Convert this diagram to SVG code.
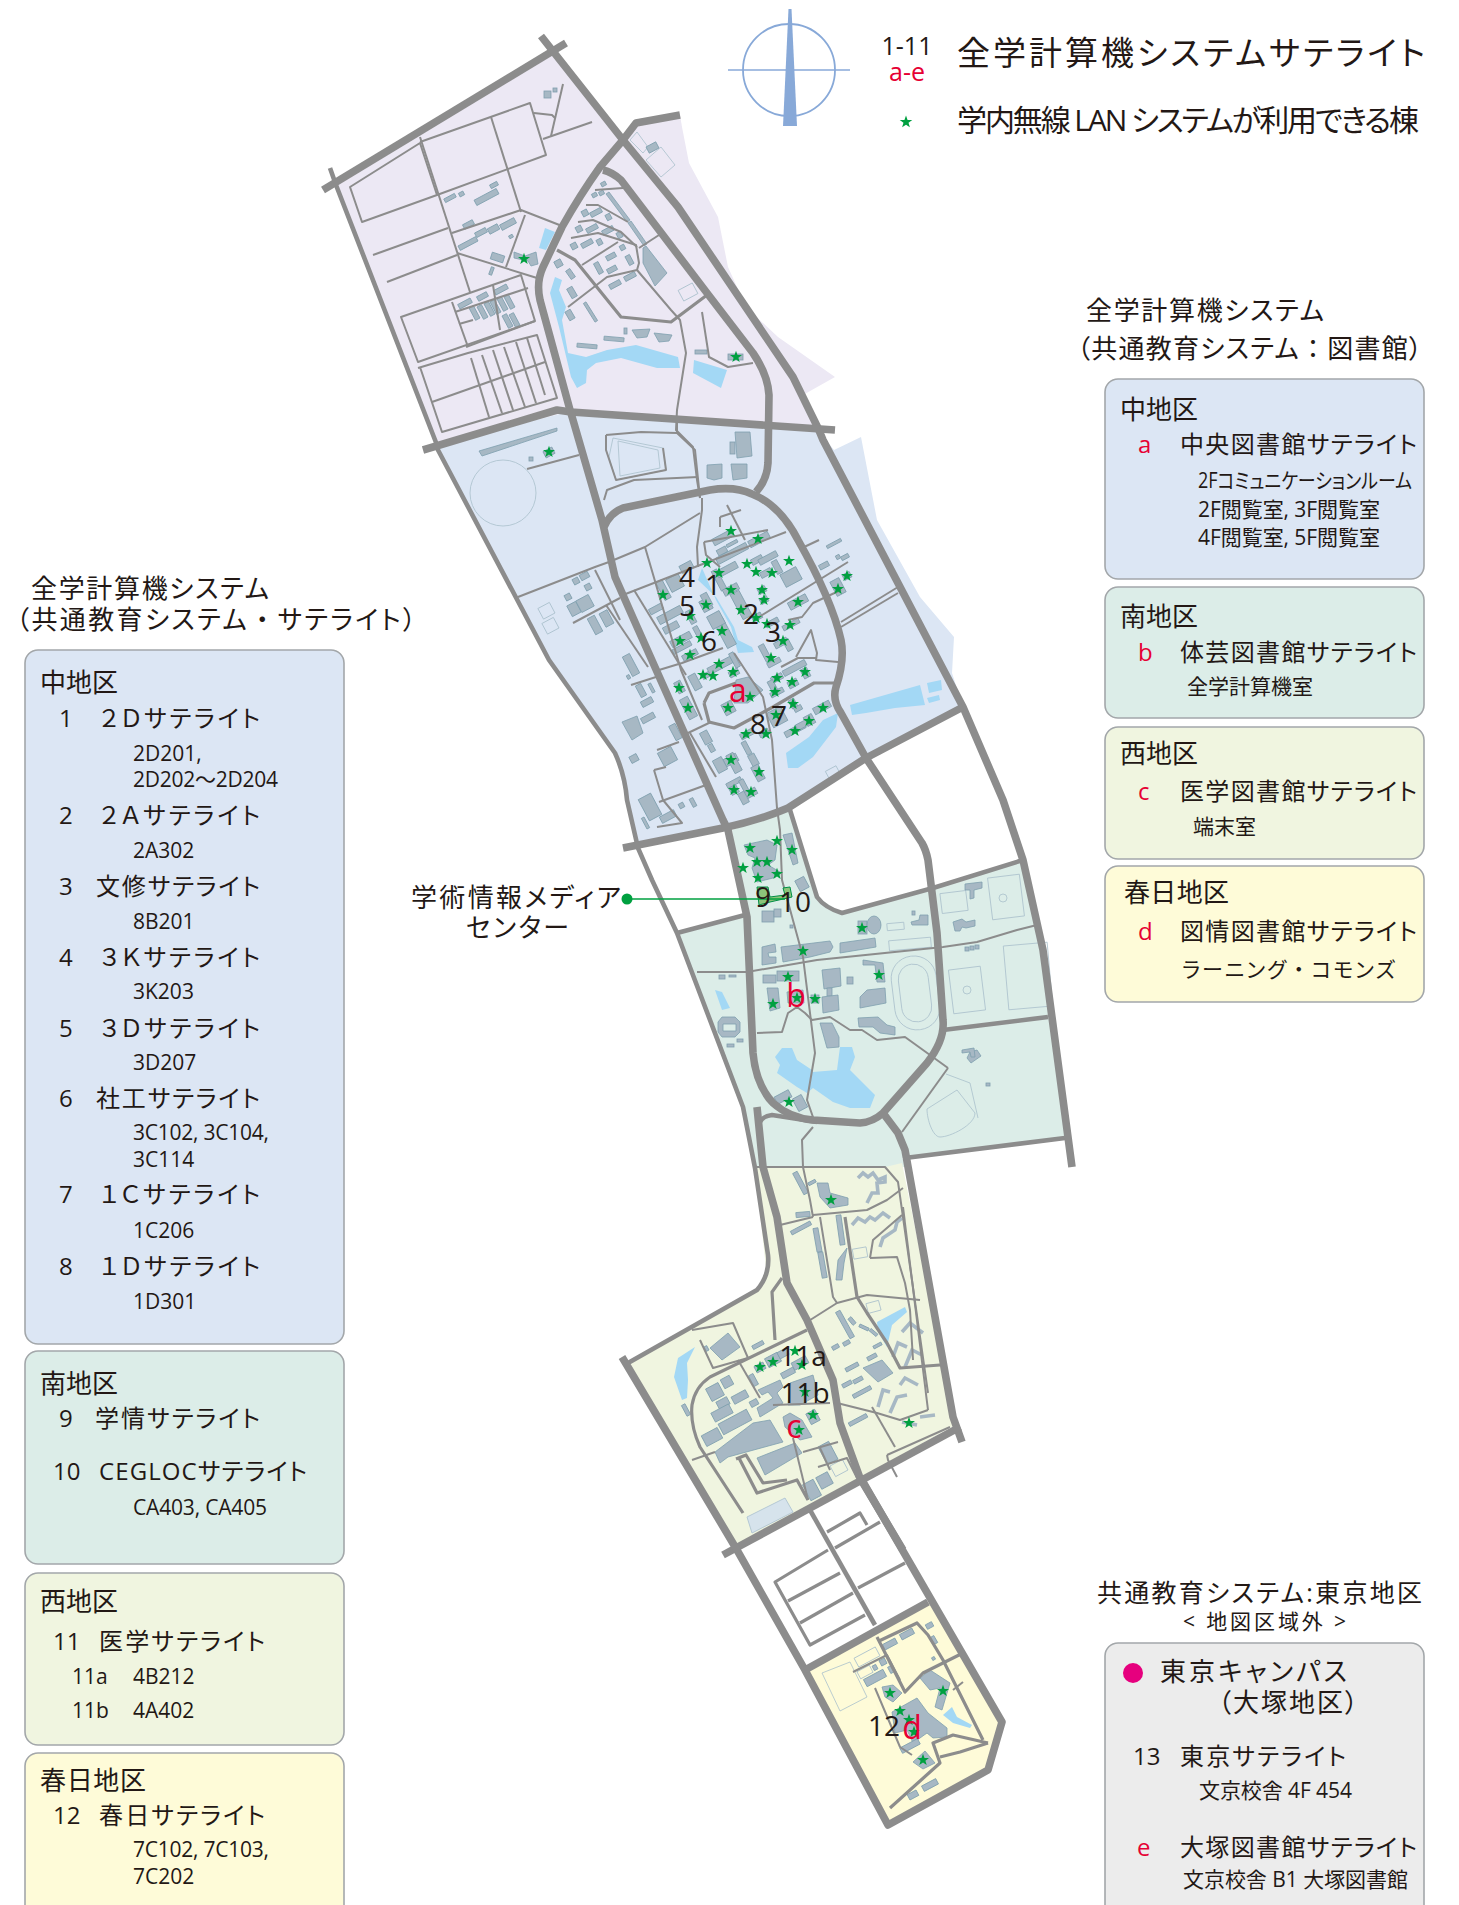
<svg xmlns="http://www.w3.org/2000/svg" width="1459" height="1905" viewBox="0 0 1459 1905">
<style>
text{font-family:"Open Sans","Noto Sans CJK JP",sans-serif;fill:#231815;font-size:24px}
.j{font-feature-settings:"palt"}
.f{font-feature-settings:normal}
.h{font-size:26px}.s{font-size:21px}.r{fill:#e60033}
.n{font-size:28px;text-anchor:middle}.nr{font-size:32px;text-anchor:middle;fill:#e60033}
.box{stroke:#a3a7aa;stroke-width:1.6}
.pond{fill:#a3d8f5}
#bld rect{transform-box:fill-box;transform-origin:center;transform:rotate(-28deg)}
#bld rect,#bld polygon,.bp{fill:#a7b8c4;stroke:#7f9fae;stroke-width:.8}
#bld rect.u{transform:none}
.o{fill:none;stroke:#aac0cc;stroke-width:.8}
.zig{fill:none;stroke:#a7b8c4;stroke-width:3.6}
.w8{fill:none;stroke:#8c8c8c;stroke-width:7.6;stroke-linejoin:round}
.w5{fill:none;stroke:#8c8c8c;stroke-width:4.6;stroke-linejoin:round}
.w3{fill:none;stroke:#8c8c8c;stroke-width:3.2;stroke-linejoin:round}
.w2{fill:none;stroke:#8c8c8c;stroke-width:2;stroke-linejoin:round}
.st{fill:#00a040}
</style>
<defs><polygon id="star" points="0,-6.200 1.500,-2 6,-1.900 2.400,.8 3.700,5 0,2.600 -3.700,5 -2.400,.8 -6,-1.900 -1.500,-2"/></defs>
<rect width="1459" height="1905" fill="#fff"/>

<g id="regions">
<polygon fill="#ece8f4" points="336,185 552,50 623,140 636,123 680,115 682,127 689,163 718,217 728,267 746,307 778,337 835,377 803,395 816,428 568,412 437,445"/>
<polygon fill="#dce6f4" points="437,445 568,412 816,428 834,450 861,437 877,520 920,597 954,637 952,673 963,707 866,758 788,808 723,828 623,848 638,848 615,753 549,660"/>
<polygon fill="#dcede8" points="732,830 790,810 817,897 842,913 1022,860 1047,967 1065,1137 902,1158 907,1167 887,1167 755,1168 743,1107 677,933 745,915"/>
<polygon fill="#f0f5e0" points="755,1168 885,1167 902,1163 953,1417 955,1425 737,1547 628,1363 757,1290 767,1277 755,1168"/>
<polygon fill="#fefbd8" points="805,1670 928,1602 1002,1722 988,1770 888,1825"/>
</g>

<g id="water">
<polygon class="pond" points="545,228 555,232 546,250 539,248"/>
<polygon class="pond" points="555,277 562,280 559,290 566,307 562,320 568,353 586,357 607,350 636,345 678,357 680,368 657,368 621,358 596,363 587,370 586,383 577,388 571,377 559,327 550,293"/>
<polygon class="pond" points="694,360 727,370 721,388 693,373"/>
<polygon class="pond" points="702,568 698,580 716,597 734,627 738,640 752,647 754,652 738,653 731,627 716,600"/>
<polygon class="pond" points="838,713 836,727 813,757 798,768 788,768 786,753 809,737 823,720"/>
<polygon class="pond" points="850,705 920,685 925,705 895,708 866,713 852,715"/>
<polygon class="pond" points="927,683 941,680 942,690 929,693"/>
<polygon class="pond" points="927,698 939,695 940,700 929,703"/>
<polygon class="pond" points="715,990 722,992 730,1008 722,1010"/>
<polygon class="pond" points="775,1057 782,1048 792,1048 797,1060 812,1070 813,1072 837,1070 840,1047 852,1047 855,1057 850,1070 875,1095 870,1108 850,1108 833,1102 813,1088 807,1093 797,1087 777,1073 780,1065"/>
<polygon class="pond" points="695,1347 687,1363 688,1380 687,1398 682,1400 674,1377 678,1358"/>
<polygon class="pond" points="877,1322 905,1307 907,1312 892,1325 887,1347 878,1332"/>
<polygon class="pond" points="943,1715 952,1707 957,1717 972,1725 970,1728 953,1723"/>
<polygon fill="#d6e3ec" stroke="#b4c8d4" points="747,1517 785,1498 793,1512 752,1533"/>
</g>

<g id="outlines">
<polygon class="o" points="630,140 637,132 648,147 643,153"/>
<polygon class="o" points="646,160 661,147 675,165 661,177"/>
<rect class="o" x="680" y="286" width="16" height="12" transform="rotate(-28 688 292)"/>
<circle class="o" cx="503" cy="493" r="33"/>
<polygon class="o" points="613,438 663,448 666,470 616,480 609,457"/>
<polygon class="o" points="618,441 658,450 660,468 620,476"/>
<rect class="o" x="540" y="605" width="13" height="12" transform="rotate(-28 546 611)"/>
<rect class="o" x="544" y="620" width="13" height="12" transform="rotate(-28 550 626)"/>
<rect class="o" x="827" y="768" width="12" height="10" transform="rotate(-28 833 773)"/>
<rect class="o" x="887" y="923" width="17" height="7" transform="rotate(-5 895 926)"/>
<rect class="o" x="889" y="939" width="42" height="10" transform="rotate(-5 910 944)"/>
<rect class="o" x="893" y="956" width="45" height="74" rx="22" transform="rotate(-7 915 993)"/>
<rect class="o" x="900" y="964" width="30" height="58" rx="15" transform="rotate(-7 915 993)"/>
<rect class="o" x="990" y="876" width="32" height="42" transform="rotate(-7 1006 897)"/>
<rect class="o" x="951" y="968" width="32" height="44" transform="rotate(-7 967 990)"/>
<circle class="o" cx="967" cy="990" r="4"/><circle class="o" cx="1003" cy="898" r="4"/>
<rect class="o" x="941" y="892" width="26" height="20" transform="rotate(-7 954 902)"/>
<rect class="o" x="1006" y="944" width="44" height="64" transform="rotate(-5 1028 976)"/>
<path class="o" d="M927 1109 L957 1090 L975 1113 C975 1125 950 1137 940 1137 C933 1137 927 1120 927 1109Z M946 1074 L970 1083 L978 1118"/>
<rect class="o" x="853" y="1248" width="14" height="10" transform="rotate(-10 860 1253)"/>
<rect class="o" x="867" y="1302" width="13" height="10" transform="rotate(-15 873 1307)"/>
<rect class="o" x="832" y="1462" width="14" height="12" transform="rotate(-28 839 1468)"/>
<polygon class="o" points="822,1673 850,1662 867,1697 840,1711"/>
<rect class="o" x="855" y="1652" width="24" height="10" transform="rotate(-28 867 1657)"/>
<rect class="o" x="858" y="1668" width="14" height="8" transform="rotate(-28 865 1672)"/>
</g>

<g id="bld">
<rect x="544" y="91" width="7" height="7" class="u"/><rect x="553" y="88" width="4" height="4" class="u"/>
<rect x="444" y="196" width="12" height="4"/><rect x="459" y="192" width="5" height="4"/><rect x="474" y="194" width="25" height="6"/><rect x="490" y="183" width="8" height="4"/>
<rect x="463" y="222" width="11" height="5"/><rect x="475" y="230" width="12" height="5"/><rect x="488" y="226" width="11" height="6"/><rect x="500" y="221" width="16" height="6"/><rect x="509" y="235" width="4" height="3"/><rect x="458" y="241" width="20" height="5"/>
<rect x="491" y="254" width="13" height="7" class="u" style="transform:rotate(18deg)"/><polygon points="514,252 525,256 536,252 538,264 531,266 528,261 514,258"/><rect x="490" y="267" width="3" height="8" class="u" style="transform:rotate(20deg)"/>
<rect x="458" y="301" width="14" height="5"/><rect x="477" y="294" width="11" height="5"/><rect x="494" y="287" width="14" height="5"/>
<rect x="472" y="306" width="5" height="14"/><rect x="480" y="305" width="5" height="14"/><rect x="487" y="302" width="5" height="14"/><rect x="493" y="300" width="5" height="14"/><rect x="500" y="297" width="5" height="14"/><rect x="507" y="295" width="5" height="14"/><rect x="505" y="314" width="5" height="14"/><rect x="512" y="313" width="5" height="14"/>
<rect x="601" y="182" width="5" height="4"/><rect x="592" y="193" width="5" height="4"/><rect x="599" y="191" width="5" height="4"/>
<polygon points="606,194 609,192 630,220 627,222"/><polygon points="628,223 631,221 647,244 644,246"/><polygon points="643,248 646,246 667,273 655,286 643,263"/>
<rect x="582" y="210" width="6" height="6"/><rect x="590" y="210" width="12" height="5"/><rect x="606" y="214" width="5" height="6"/><rect x="576" y="226" width="6" height="6"/><rect x="586" y="226" width="12" height="5"/><rect x="602" y="228" width="12" height="5"/><rect x="617" y="232" width="5" height="6"/><rect x="571" y="243" width="6" height="6"/><rect x="581" y="241" width="12" height="5"/><rect x="597" y="239" width="5" height="6"/><rect x="620" y="245" width="5" height="5"/><rect x="606" y="254" width="10" height="5"/><rect x="627" y="255" width="5" height="10"/><rect x="596" y="262" width="5" height="12"/><rect x="607" y="267" width="10" height="5"/><rect x="624" y="274" width="12" height="5"/><rect x="609" y="282" width="12" height="5"/>
<rect x="555" y="260" width="7" height="7"/><rect x="568" y="269" width="5" height="10" class="u" style="transform:rotate(-35deg)"/><rect x="569" y="287" width="6" height="11" class="u" style="transform:rotate(-30deg)"/><rect x="567" y="310" width="6" height="10" class="u" style="transform:rotate(-30deg)"/><rect x="589" y="301" width="3" height="22" class="u" style="transform:rotate(-32deg)"/>
<rect x="624" y="328" width="3" height="6" class="u"/><polygon points="632,330 650,329 647,337 637,338"/><polygon points="654,333 672,335 669,341 659,342"/><rect x="604" y="337" width="20" height="4" class="u" style="transform:rotate(5deg)"/><rect x="577" y="344" width="20" height="4" class="u" style="transform:rotate(5deg)"/><rect x="695" y="350" width="12" height="4" class="u"/><rect x="728" y="354" width="15" height="6" class="u"/>
<rect x="647" y="144" width="11" height="7"/>
<polygon points="479,451 557,428 557,431 482,456"/><rect x="529" y="457" width="4" height="4" class="u"/><rect x="544" y="449" width="10" height="7"/>
<polygon points="735,432 750,432 752,456 737,458"/><rect x="730" y="442" width="5" height="12" class="u"/><polygon points="707,465 722,464 722,478 714,480 707,478"/><polygon points="731,464 747,464 747,478 733,480"/>
<rect x="712" y="534" width="22" height="7"/><rect x="717" y="548" width="10" height="6"/><rect x="726" y="542" width="12" height="3"/><rect x="715" y="550" width="34" height="7"/><rect x="748" y="536" width="22" height="7"/><rect x="680" y="563" width="13" height="8"/><rect x="668" y="576" width="14" height="14"/><rect x="660" y="580" width="7" height="20"/><rect x="649" y="606" width="14" height="6"/><rect x="657" y="611" width="26" height="8"/><rect x="663" y="624" width="16" height="7"/><rect x="670" y="636" width="22" height="7"/><rect x="672" y="645" width="20" height="5"/><rect x="682" y="652" width="16" height="6"/><rect x="695" y="626" width="5" height="12"/><rect x="701" y="599" width="10" height="12"/><rect x="688" y="610" width="6" height="14"/>
<rect x="720" y="618" width="10" height="30"/><rect x="709" y="613" width="14" height="14"/><rect x="703" y="593" width="7" height="14"/><rect x="716" y="569" width="6" height="22"/><rect x="716" y="566" width="22" height="7"/><rect x="723" y="586" width="16" height="7"/><rect x="751" y="557" width="12" height="6"/><rect x="758" y="555" width="20" height="6"/><rect x="774" y="560" width="6" height="14"/><rect x="760" y="570" width="12" height="6"/><rect x="782" y="570" width="18" height="14"/><rect x="736" y="591" width="10" height="28"/><rect x="758" y="587" width="8" height="6"/><rect x="760" y="597" width="8" height="6"/><rect x="752" y="614" width="10" height="6"/><rect x="765" y="620" width="14" height="5"/><rect x="782" y="622" width="18" height="5"/><rect x="788" y="598" width="20" height="8"/><rect x="833" y="579" width="10" height="16"/><rect x="843" y="573" width="8" height="6"/><rect x="819" y="563" width="10" height="5"/><rect x="826" y="542" width="16" height="3"/><rect x="836" y="555" width="4" height="4"/><rect x="841" y="555" width="8" height="4"/>
<rect x="774" y="640" width="14" height="6"/><rect x="785" y="639" width="6" height="12"/><rect x="762" y="644" width="6" height="18"/><rect x="767" y="660" width="14" height="5"/><rect x="771" y="675" width="12" height="6"/><rect x="782" y="665" width="25" height="6"/><rect x="802" y="668" width="7" height="10"/><rect x="788" y="680" width="10" height="7"/><rect x="770" y="680" width="6" height="14"/><rect x="770" y="690" width="14" height="5"/>
<rect x="707" y="662" width="26" height="7"/><rect x="702" y="673" width="8" height="5"/><rect x="732" y="652" width="5" height="16"/><rect x="729" y="670" width="10" height="6"/><rect x="691" y="674" width="8" height="16"/>
<polygon points="736,680 748,677 763,690 748,703 734,703"/>
<rect x="723" y="702" width="11" height="12"/><rect x="676" y="681" width="7" height="12"/><rect x="684" y="697" width="9" height="22"/><rect x="790" y="699" width="6" height="9"/><rect x="794" y="706" width="8" height="5"/><rect x="813" y="704" width="18" height="7"/><rect x="769" y="709" width="16" height="16"/><rect x="805" y="715" width="9" height="10"/><rect x="784" y="727" width="22" height="6"/><rect x="796" y="722" width="12" height="6"/><rect x="740" y="731" width="14" height="6"/><rect x="759" y="730" width="10" height="6"/>
<rect x="724" y="756" width="14" height="8"/><rect x="715" y="758" width="10" height="14"/><rect x="730" y="753" width="8" height="20"/><rect x="744" y="741" width="5" height="14"/><rect x="750" y="754" width="7" height="12"/><rect x="754" y="765" width="8" height="16"/><rect x="726" y="780" width="16" height="5"/><rect x="742" y="779" width="5" height="16"/><rect x="730" y="786" width="8" height="8"/><rect x="743" y="790" width="14" height="7"/><rect x="740" y="792" width="7" height="12"/>
<rect x="573" y="578" width="6" height="6"/><rect x="580" y="573" width="9" height="6"/><rect x="585" y="584" width="6" height="6"/><rect x="565" y="594" width="6" height="6"/><rect x="569" y="603" width="10" height="12"/><rect x="578" y="597" width="14" height="13"/><rect x="591" y="616" width="8" height="18"/><rect x="602" y="611" width="9" height="15"/>
<rect x="627" y="654" width="8" height="22"/><rect x="627" y="675" width="3" height="4"/><rect x="638" y="684" width="6" height="13"/><rect x="641" y="699" width="12" height="6"/><rect x="650" y="683" width="3" height="10"/><polygon points="622,722 637,716 643,733 632,740"/><rect x="641" y="715" width="14" height="6"/>
<rect x="630" y="755" width="8" height="7"/><rect x="660" y="749" width="15" height="15"/><rect x="672" y="724" width="7" height="16"/><rect x="702" y="731" width="8" height="13"/><rect x="709" y="744" width="5" height="8"/>
<rect x="643" y="795" width="14" height="24"/><rect x="660" y="813" width="16" height="7"/><rect x="679" y="803" width="5" height="5"/><rect x="691" y="798" width="4" height="9"/><rect x="644" y="817" width="3" height="12"/>
<polygon points="744,845 767,840 777,845 775,860 768,865 780,872 773,878 757,882 752,868 755,858 748,855"/>
<polygon points="783,835 792,833 798,863 793,865"/><rect x="797" y="878" width="10" height="12"/>
<rect x="762" y="911" width="12" height="11" class="u"/><rect x="774" y="909" width="7" height="8" class="u"/><rect x="790" y="925" width="3" height="3" class="u"/>
<polygon points="762,947 775,944 776,952 768,953 769,957 776,957 776,963 762,965"/><polygon points="781,947 830,941 833,947 830,952 810,957 783,962"/><polygon points="840,943 875,938 876,947 840,953"/>
<rect x="858" y="921" width="9" height="13" class="u"/><ellipse class="bp" cx="874" cy="925" rx="7" ry="9"/>
<polygon points="911,922 919,920 920,915 928,915 928,925 912,925"/><rect x="912" y="911" width="3" height="4" class="u"/>
<rect x="763" y="975" width="13" height="8" class="u"/><rect x="777" y="971" width="22" height="10" class="u"/>
<polygon points="822,970 840,968 841,986 824,989"/><rect x="827" y="988" width="5" height="8" class="u"/><polygon points="822,997 838,995 839,1010 823,1013"/><rect x="847" y="977" width="6" height="7" class="u"/>
<polygon points="863,960 883,963 885,982 877,982 875,965 863,965"/><polygon points="860,997 867,990 885,988 886,1003 860,1008"/><polygon points="767,988 778,988 780,1008 770,1011"/><polygon points="787,992 803,990 804,1003 788,1003"/><rect x="811" y="995" width="8" height="8" class="u"/>
<polygon points="820,1023 832,1023 839,1037 839,1047 827,1048"/><polygon points="858,1018 878,1017 887,1025 895,1027 895,1035 880,1033 873,1027 859,1027"/>
<polygon points="965,884 982,882 982,888 974,890 974,898 970,899 970,890 965,890"/>
<polygon points="953,922 962,919 966,922 975,920 975,926 966,928 962,927 960,931 955,931"/>
<rect x="965" y="947" width="4" height="4" class="u"/><rect x="970" y="946" width="4" height="4" class="u"/><rect x="975" y="945" width="4" height="4" class="u"/>
<rect x="719" y="975" width="6" height="4" class="u"/><rect x="729" y="975" width="7" height="2" class="u"/>
<path class="bp" fill-rule="evenodd" d="M722 1017 L735 1017 L740 1022 L740 1032 L735 1037 L722 1037 L718 1032 L718 1022Z M723 1024 L723 1031 L736 1031 L736 1024Z"/>
<rect x="727" y="1044" width="7" height="3" class="u"/><rect x="737" y="1039" width="6" height="3" class="u"/>
<polygon points="970,1052 977,1050 981,1056 971,1063 967,1058"/><polygon points="962,1050 974,1048 975,1057 971,1057 970,1052 962,1053"/><rect x="986" y="1083" width="4" height="3" class="u"/>
<rect x="775" y="1093" width="16" height="8"/><rect x="795" y="1096" width="10" height="14"/>
<rect x="798" y="1171" width="5" height="24"/><rect x="808" y="1181" width="8" height="3"/><polygon points="817,1183 828,1183 830,1193 848,1198 848,1205 830,1208 820,1197"/><rect x="796" y="1212" width="14" height="5" class="u" style="transform:rotate(-5deg)"/><rect x="790" y="1226" width="22" height="4"/>
<rect x="815" y="1228" width="5" height="24" class="u" style="transform:rotate(-10deg)"/><rect x="820" y="1252" width="5" height="26" class="u" style="transform:rotate(-10deg)"/><rect x="838" y="1215" width="5" height="30" class="u" style="transform:rotate(-8deg)"/><polygon points="836,1280 838,1260 847,1248 844,1263 842,1280"/>
<rect x="830" y="1322" width="30" height="5" class="u" style="transform:rotate(61deg)"/>
<rect x="848" y="1319" width="8" height="4" class="u" style="transform:rotate(50deg)"/><rect x="859" y="1326" width="10" height="3" class="u" style="transform:rotate(25deg)"/><rect x="869" y="1331" width="9" height="3" class="u" style="transform:rotate(40deg)"/><rect x="873" y="1344" width="9" height="3"/><rect x="832" y="1345" width="7" height="4"/><rect x="843" y="1341" width="7" height="4"/><rect x="867" y="1355" width="10" height="4"/>
<rect x="845" y="1365" width="14" height="4"/><polygon points="863,1368 882,1360 893,1373 878,1382"/><rect x="853" y="1378" width="10" height="4"/><rect x="842" y="1382" width="10" height="4"/><rect x="852" y="1390" width="20" height="4"/><rect x="848" y="1418" width="20" height="4"/>
<polygon points="710,1348 728,1333 740,1347 722,1360"/><rect x="705" y="1346" width="3" height="5"/><rect x="752" y="1343" width="12" height="4"/><rect x="684" y="1404" width="4" height="12"/>
<rect x="755" y="1364" width="10" height="7"/><rect x="766" y="1355" width="14" height="10"/><rect x="778" y="1350" width="10" height="7"/><rect x="792" y="1359" width="16" height="8"/><rect x="781" y="1370" width="14" height="6"/><rect x="751" y="1374" width="5" height="12"/>
<rect x="708" y="1385" width="14" height="14"/><rect x="722" y="1377" width="10" height="10"/><rect x="732" y="1393" width="16" height="8"/><rect x="717" y="1399" width="12" height="8"/><rect x="712" y="1408" width="20" height="10"/><rect x="719" y="1416" width="32" height="12"/><rect x="703" y="1431" width="18" height="12"/><rect x="750" y="1400" width="8" height="6"/>
<polygon points="758,1390 780,1380 783,1387 777,1393 783,1403 760,1417 757,1408 773,1398 768,1392 762,1395"/><polygon points="790,1383 813,1375 818,1395 800,1405 788,1405"/><rect x="808" y="1411" width="10" height="12"/><polygon points="783,1417 790,1413 802,1420 812,1437 800,1440 785,1427"/>
<polygon points="715,1452 753,1423 770,1420 783,1442 728,1457 720,1463"/><polygon points="757,1458 795,1443 802,1453 765,1475"/><rect x="822" y="1443" width="12" height="20"/><rect x="818" y="1474" width="13" height="13"/><rect x="806" y="1481" width="12" height="18"/>
<rect x="883" y="1641" width="14" height="6"/><rect x="900" y="1631" width="14" height="6"/><rect x="926" y="1623" width="7" height="5"/><rect x="880" y="1659" width="6" height="6"/><rect x="873" y="1665" width="4" height="5"/><rect x="864" y="1674" width="22" height="8"/><rect x="889" y="1666" width="4" height="7"/><rect x="932" y="1636" width="4" height="8" class="u" style="transform:rotate(-30deg)"/><rect x="932" y="1657" width="3" height="3"/>
<polygon points="882,1687 893,1685 902,1693 893,1702 885,1697"/><polygon points="920,1678 930,1670 950,1683 942,1710 935,1707 940,1688 930,1690"/><polygon points="892,1712 917,1698 928,1713 947,1728 947,1737 933,1738 927,1733 913,1743 907,1730 895,1733"/>
<rect x="900" y="1743" width="20" height="6"/><polygon points="913,1762 925,1751 935,1763 923,1769"/><rect x="922" y="1782" width="16" height="6"/><rect x="908" y="1792" width="10" height="6"/>
<polyline class="zig" points="858,1178 863,1173 868,1177 873,1173 878,1180 885,1177 885,1182 877,1183 878,1193 872,1193 867,1203"/>
<polyline class="zig" points="852,1225 858,1218 865,1222 870,1217 875,1220 883,1213 890,1218"/>
<polyline class="zig" points="880,1247 883,1238 895,1230 897,1222 902,1218"/>
<polyline class="zig" points="902,1332 910,1323 923,1333"/><polyline class="zig" points="893,1357 898,1343 907,1347"/><polyline class="zig" points="905,1367 912,1350 922,1355"/><polyline class="zig" points="900,1385 905,1378 918,1385"/><polyline class="zig" points="878,1407 883,1390 890,1392"/><polyline class="zig" points="890,1413 897,1397 907,1395"/><polyline class="zig" points="920,1417 935,1415"/><polyline class="zig" points="902,1422 917,1425"/>
</g>

<g id="connectors">
<g class="w2">
<polygon points="350,187 420,143 437,195 362,222" fill="none"/>
<polyline points="420,142 530,103 546,155 437,195"/>
<polyline points="420,137 470,292"/><polyline points="491,117 521,212"/><polyline points="373,255 448,228"/><polyline points="387,282 457,255"/>
<polyline points="452,233 521,210 562,226"/><polyline points="457,253 537,278"/><polyline points="525,215 506,267"/>
<polyline points="534,113 552,115 555,118"/><polyline points="563,84 551,136"/><polyline points="543,139 592,122"/>
<polygon points="401,317 521,275 535,321 418,362" fill="none"/>
<polyline points="418,368 468,353 537,335 557,398 442,432 420,367"/>
<polyline points="452,302 468,347"/><polyline points="455,312 528,288"/><polyline points="459,324 473,320"/><polyline points="493,285 500,330"/><polyline points="466,347 535,321"/>
<polyline points="432,402 545,362"/><polyline points="471,358 489,417"/><polyline points="482,355 502,413"/><polyline points="493,350 513,410"/><polyline points="504,347 525,407"/><polyline points="516,342 536,403"/><polyline points="527,338 545,395"/>
<polyline points="595,190 623,188"/><polyline points="586,205 598,205 628,222"/><polyline points="578,222 593,220 621,232 637,247"/><polyline points="571,238 598,233 614,238 636,245 639,263 637,270 607,277 568,307"/><polyline points="582,265 618,242"/><polyline points="659,235 639,248"/>
<polyline points="637,270 671,310 680,320 686,353 677,410 676,430 693,447 697,480 700,498"/>
<polyline points="702,312 709,357 728,367 753,363"/>
<polyline points="518,597 595,567 609,562 645,547 700,513"/>
<polyline points="702,498 702,510 697,547 698,567"/><polyline points="677,423 677,433 695,450 700,498"/>
<polyline points="606,435 641,432 677,433"/><polyline points="606,435 606,450 616,480 666,470 663,448"/>
<polyline points="604,500 607,490 634,480 698,477"/><polyline points="527,469 579,455"/>
<polyline points="645,547 681,670 702,720"/><polyline points="634,590 686,675"/><polyline points="595,570 620,620"/><polyline points="573,623 620,598"/><polyline points="606,605 648,667"/>
<polyline points="623,595 695,567 786,532"/><polyline points="631,685 656,677"/><polyline points="659,670 682,663 723,648"/>
<polyline points="688,733 711,722"/><polyline points="727,505 745,540"/><polyline points="720,517 741,510"/><polyline points="720,517 720,527"/>
<polyline points="704,542 768,530"/><polyline points="704,542 706,555 720,567"/>
<polyline points="734,653 763,697 772,740 777,808 780,830 782,880 803,957 815,1053 807,1100 814,1120"/>
<polyline points="802,548 819,540"/><polyline points="759,617 848,562"/><polyline points="841,622 898,587"/><polyline points="841,627 898,593"/>
<polyline points="788,620 802,617 813,603 841,590"/><polyline points="796,657 811,630 817,653 816,660 838,662"/><polyline points="781,667 798,658 816,658"/>
<polyline points="657,750 679,742"/><polyline points="690,733 716,777"/><polyline points="654,770 666,767"/><polyline points="654,770 663,800 682,823 657,827"/><polyline points="659,802 706,785"/>
<polyline points="697,972 747,972 817,960 943,947 977,942 1017,930 1037,925"/>
<polyline points="757,1033 782,1032 788,1013 797,1007 805,1013 812,1020 830,1017 850,1030 862,1030 877,1040 905,1037 948,1068"/><polyline points="948,1068 902,1132"/>
<polyline points="813,1127 802,1140 803,1167 810,1200 813,1217"/>
<polyline points="755,1167 885,1167 898,1182 928,1393"/>
<polyline points="813,1215 867,1210 887,1200 903,1188"/><polyline points="780,1225 813,1217"/><polyline points="820,1217 833,1297 837,1303"/>
<polyline points="870,1258 897,1257 905,1283 910,1310 913,1360"/><polyline points="870,1258 873,1240 902,1215"/><polyline points="903,1207 928,1410"/>
<polyline points="807,1322 837,1303 867,1295 920,1300"/>
<polyline points="692,1330 733,1323 748,1358 713,1368 700,1340"/><polyline points="738,1360 760,1398"/>
<polyline points="837,1403 857,1408 877,1413 900,1420 928,1410"/><polyline points="872,1407 895,1447"/><polyline points="887,1455 950,1427"/><polyline points="887,1455 888,1460 897,1477"/>
<polyline points="793,1438 808,1500"/><polyline points="803,1452 838,1442"/><polyline points="820,1448 830,1470"/><polyline points="818,1467 847,1458 857,1478"/><polyline points="773,1405 830,1403"/>
<polyline points="692,1460 715,1452"/>
<polyline points="853,1672 887,1655 900,1680"/><polyline points="875,1688 900,1747 912,1755"/>
<polyline points="953,1690 963,1682"/>
</g>
<g class="w3">
<polyline points="557,250 575,260 621,317 671,322 707,295"/>
<polyline points="739,1458 757,1493 797,1480 808,1500"/><polyline points="736,1459 746,1455 763,1483 787,1480"/>
<polyline points="857,1297 867,1313 887,1343 900,1368 940,1365"/><polyline points="845,1217 857,1297"/>
<polyline points="782,1278 772,1292 775,1340"/>
<path d="M743 1513 L700 1447 Q690 1425 692 1405 Q695 1387 710 1377 L807 1330"/>
<polyline points="704,703 709,693 736,683"/><polyline points="704,703 709,722 734,728 773,707 814,683 838,683"/>
<polyline points="877,1637 905,1692 923,1673 963,1653"/><polyline points="879,1641 917,1623 928,1635 943,1660 983,1740"/>
<polyline points="890,1808 940,1763 933,1743 953,1735 988,1743"/><polyline points="940,1757 960,1752 988,1743"/>
<polyline points="827,1532 860,1513 867,1525"/><polyline points="828,1550 775,1582 810,1645 865,1615"/><polyline points="788,1601 840,1573"/><polyline points="800,1623 853,1593"/><polyline points="858,1588 905,1563"/><polyline points="835,1548 880,1522"/>
</g>
<g class="w5">
<polyline points="677,933 745,915"/>
<path d="M330 168 L336 185 L437 445 L438 450 L549 660 L615 753 Q625 775 627 800 L638 848 L652 880 L677 933 L743 1107 L755 1168 L768 1255 Q770 1275 757 1290 L628 1363"/>
<path d="M790 810 L817 897 Q825 908 842 913 L933 888 L1023 860"/>
<polyline points="943,1030 1048,1017"/><polyline points="905,1158 1065,1138"/>
<path d="M760 1122 Q763 1116 772 1115 L817 1122"/>
<polyline points="810,1510 875,1625"/>
</g>
<g class="w8">
<polyline points="323,190 566,43"/>
<polyline points="541,36 623,140 678,207 793,377 818,428 823,440 963,707 1003,800 1023,860 1043,950 1072,1167"/>
<polyline points="423,450 557,410 571,412 835,430"/>
<path d="M623 140 L600 167 Q580 195 562 227 L543 267 Q536 282 540 300 L570 410 L573 420 L602 520 L615 577 L634 620 L723 820 L728 830 L747 917 L753 1053 Q756 1085 773 1103 Q790 1118 813 1120 L860 1123 Q873 1122 883 1113 L927 1063 Q945 1040 943 1020 L937 933 L928 860 Q926 850 922 843 L866 758 L841 713 Q832 700 836 687 Q845 660 841 640 Q832 600 798 540 Q780 505 752 494 Q735 486 710 490 L623 508 Q610 513 604 527"/>
<path d="M603 170 Q612 172 621 180 L707 293 L753 353 Q768 375 769 395 L768 463 Q767 480 756 492"/>
<path d="M623 848 L723 828 Q760 820 788 808 L866 758 L963 707"/>
<polyline points="623,140 636,123 680,115"/>
<polyline points="757,1107 763,1167 777,1217 787,1283 807,1320 833,1380 840,1423 860,1478 903,1550"/>
<polyline points="883,1113 898,1133 905,1150 953,1417 962,1442"/>
<polyline points="723,1555 960,1427"/>
<polyline points="622,1357 737,1550 805,1670 888,1825 988,1770 1002,1722 863,1482"/>
<polyline points="805,1670 928,1602"/>
</g>
</g>

<g id="stars" class="st">
<use href="#star" x="524" y="259"/><use href="#star" x="736" y="357"/><use href="#star" x="549" y="452"/><use href="#star" x="731" y="531"/><use href="#star" x="758" y="539"/><use href="#star" x="707" y="563"/><use href="#star" x="719" y="573"/><use href="#star" x="747" y="564"/><use href="#star" x="789" y="561"/><use href="#star" x="756" y="572"/><use href="#star" x="772" y="573"/><use href="#star" x="731" y="590"/><use href="#star" x="762" y="590"/><use href="#star" x="764" y="600"/><use href="#star" x="663" y="595"/><use href="#star" x="706" y="605"/><use href="#star" x="690" y="616"/><use href="#star" x="798" y="602"/><use href="#star" x="838" y="589"/><use href="#star" x="847" y="576"/><use href="#star" x="741" y="610"/><use href="#star" x="756" y="618"/><use href="#star" x="767" y="624"/><use href="#star" x="790" y="625"/><use href="#star" x="722" y="631"/><use href="#star" x="783" y="641"/><use href="#star" x="701" y="638"/><use href="#star" x="680" y="641"/><use href="#star" x="690" y="655"/><use href="#star" x="771" y="658"/><use href="#star" x="719" y="664"/><use href="#star" x="703" y="675"/><use href="#star" x="713" y="676"/><use href="#star" x="733" y="672"/><use href="#star" x="777" y="678"/><use href="#star" x="805" y="672"/><use href="#star" x="792" y="682"/><use href="#star" x="679" y="688"/><use href="#star" x="775" y="692"/><use href="#star" x="750" y="697"/><use href="#star" x="728" y="708"/><use href="#star" x="688" y="708"/><use href="#star" x="793" y="704"/><use href="#star" x="823" y="708"/><use href="#star" x="776" y="715"/><use href="#star" x="809" y="721"/><use href="#star" x="795" y="731"/><use href="#star" x="746" y="734"/><use href="#star" x="766" y="734"/><use href="#star" x="731" y="760"/><use href="#star" x="759" y="772"/><use href="#star" x="734" y="790"/><use href="#star" x="751" y="792"/>
<use href="#star" x="750" y="848"/><use href="#star" x="777" y="841"/><use href="#star" x="792" y="850"/><use href="#star" x="757" y="862"/><use href="#star" x="767" y="862"/><use href="#star" x="743" y="868"/><use href="#star" x="777" y="874"/><use href="#star" x="758" y="878"/><use href="#star" x="862" y="928"/><use href="#star" x="803" y="951"/><use href="#star" x="879" y="975"/><use href="#star" x="788" y="977"/><use href="#star" x="797" y="998"/><use href="#star" x="815" y="999"/><use href="#star" x="773" y="1004"/><use href="#star" x="789" y="1102"/>
<use href="#star" x="831" y="1200"/><use href="#star" x="795" y="1351"/><use href="#star" x="760" y="1367"/><use href="#star" x="773" y="1362"/><use href="#star" x="802" y="1365"/><use href="#star" x="805" y="1392"/><use href="#star" x="813" y="1415"/><use href="#star" x="799" y="1430"/><use href="#star" x="909" y="1423"/>
<use href="#star" x="890" y="1693"/><use href="#star" x="943" y="1691"/><use href="#star" x="900" y="1711"/><use href="#star" x="909" y="1720"/><use href="#star" x="914" y="1732"/><use href="#star" x="923" y="1760"/>
</g>

<g id="media-center">
<polygon points="757,887 768,887 770,897 785,895 783,888 790,887 792,897 770,902 759,905" fill="#8cc37a" stroke="#008f46" stroke-width="1"/>
<line x1="627" y1="899" x2="785" y2="899" stroke="#00a040" stroke-width="1.6"/>
<circle cx="627" cy="899" r="5.500" fill="#00a040"/>
<text x="411" y="907" class="h j" textLength="210">学術情報メディア</text>
<text x="466" y="937" class="h j" textLength="103">センター</text>
</g>

<g id="map-labels">
<text class="n" x="687" y="587">4</text><text class="n" x="713" y="595">1</text><text class="n" x="687" y="616">5</text><text class="n" x="751" y="624">2</text><text class="n" x="773" y="642">3</text><text class="n" x="709" y="651">6</text><text class="n" x="779" y="726">7</text><text class="n" x="758" y="734">8</text><text class="nr" x="738" y="702">a</text>
<text class="n" x="763" y="907">9</text><text class="n" x="795" y="912">10</text><text class="nr" x="796" y="1007">b</text>
<text class="n" x="803" y="1366">11a</text><text class="n" x="805" y="1403">11b</text><text class="nr" x="794" y="1438">c</text>
<text class="n" x="884" y="1736">12</text><text class="nr" x="912" y="1739">d</text>
</g>

<g id="compass">
<circle cx="789" cy="70" r="46" fill="none" stroke="#88a9d8" stroke-width="1.8"/>
<line x1="728" y1="70" x2="850" y2="70" stroke="#88a9d8" stroke-width="1.6"/>
<polygon points="788.500,9 791.500,9 797,126 783,126" fill="#88a9d8"/>
</g>

<g id="legend-top">
<text x="907" y="55" text-anchor="middle" style="font-size:25px">1-11</text>
<text x="907" y="81" text-anchor="middle" class="r" style="font-size:25px">a-e</text>
<text x="957" y="65" class="j" style="font-size:33px" textLength="468">全学計算機システムサテライト</text>
<g transform="translate(906 122) scale(1.05)" class="st"><use href="#star"/></g>
<text x="957" y="131" class="j" style="font-size:30px" textLength="462">学内無線 LAN システムが利用できる棟</text>
</g>

<g id="panel-left">
<text x="31" y="598" class="h j" textLength="238">全学計算機システム</text>
<text x="16" y="629" class="h j" textLength="400">（共通教育システム<tspan class="f">・</tspan>サテライト）</text>
<g id="box-naka">
<rect class="box" x="25" y="650" width="319" height="694" rx="13" fill="#dce6f4"/>
<text x="40" y="692" class="h j" textLength="78">中地区</text>
<text x="59" y="727">1</text><text x="100" y="727" class="j" textLength="160">２Ｄサテライト</text>
<text x="133" y="761" class="s">2D201,</text><text x="133" y="787" class="s" textLength="145">2D202～2D204</text>
<text x="59" y="824">2</text><text x="100" y="824" class="j" textLength="160">２Ａサテライト</text><text x="133" y="858" class="s">2A302</text>
<text x="59" y="895">3</text><text x="96" y="895" class="j" textLength="164">文修サテライト</text><text x="133" y="929" class="s">8B201</text>
<text x="59" y="966">4</text><text x="100" y="966" class="j" textLength="160">３Ｋサテライト</text><text x="133" y="999" class="s">3K203</text>
<text x="59" y="1037">5</text><text x="100" y="1037" class="j" textLength="160">３Ｄサテライト</text><text x="133" y="1070" class="s">3D207</text>
<text x="59" y="1107">6</text><text x="96" y="1107" class="j" textLength="164">社工サテライト</text><text x="133" y="1140" class="s" textLength="136">3C102, 3C104,</text><text x="133" y="1167" class="s">3C114</text>
<text x="59" y="1203">7</text><text x="100" y="1203" class="j" textLength="160">１Ｃサテライト</text><text x="133" y="1238" class="s">1C206</text>
<text x="59" y="1275">8</text><text x="100" y="1275" class="j" textLength="160">１Ｄサテライト</text><text x="133" y="1309" class="s">1D301</text>
</g>
<g id="box-minami">
<rect class="box" x="25" y="1351" width="319" height="213" rx="13" fill="#dcede8"/>
<text x="40" y="1393" class="h j" textLength="78">南地区</text>
<text x="59" y="1427">9</text><text x="95" y="1427" class="j" textLength="165">学情サテライト</text>
<text x="53" y="1480">10</text><text x="99" y="1480" class="j" textLength="208">CEGLOCサテライト</text>
<text x="133" y="1515" class="s" textLength="134">CA403, CA405</text>
</g>
<g id="box-nishi">
<rect class="box" x="25" y="1573" width="319" height="172" rx="13" fill="#f0f5e0"/>
<text x="40" y="1611" class="h j" textLength="78">西地区</text>
<text x="53" y="1650">11</text><text x="99" y="1650" class="j" textLength="166">医学サテライト</text>
<text x="72" y="1684" class="s">11a</text><text x="133" y="1684" class="s">4B212</text>
<text x="72" y="1718" class="s">11b</text><text x="133" y="1718" class="s">4A402</text>
</g>
<g id="box-kasuga">
<rect class="box" x="25" y="1753" width="319" height="180" rx="13" fill="#fefbd8"/>
<text x="40" y="1790" class="h j" textLength="106">春日地区</text>
<text x="53" y="1824">12</text><text x="99" y="1824" class="j" textLength="166">春日サテライト</text>
<text x="133" y="1857" class="s" textLength="136">7C102, 7C103,</text><text x="133" y="1884" class="s">7C202</text>
</g>
</g>

<g id="panel-right">
<text x="1086" y="320" class="h j" textLength="238">全学計算機システム</text>
<text x="1077" y="358" class="h j" textLength="345">（共通教育システム<tspan class="f">：</tspan>図書館）</text>
<g id="lib-naka">
<rect class="box" x="1105" y="379" width="319" height="200" rx="13" fill="#dce6f4"/>
<text x="1120" y="419" class="h j" textLength="78">中地区</text>
<text x="1138" y="453" class="r">a</text><text x="1180" y="453" class="j" textLength="237">中央図書館サテライト</text>
<text x="1198" y="488" class="s j" textLength="214" lengthAdjust="spacingAndGlyphs">2Fコミュニケーションルーム</text>
<text x="1198" y="517" class="s j" textLength="182">2F閲覧室, 3F閲覧室</text>
<text x="1198" y="545" class="s j" textLength="182">4F閲覧室, 5F閲覧室</text>
</g>
<g id="lib-minami">
<rect class="box" x="1105" y="587" width="319" height="131" rx="13" fill="#dcede8"/>
<text x="1120" y="626" class="h j" textLength="78">南地区</text>
<text x="1138" y="661" class="r">b</text><text x="1180" y="661" class="j" textLength="237">体芸図書館サテライト</text>
<text x="1187" y="694" class="s j" textLength="126">全学計算機室</text>
</g>
<g id="lib-nishi">
<rect class="box" x="1105" y="727" width="319" height="132" rx="13" fill="#f0f5e0"/>
<text x="1120" y="763" class="h j" textLength="78">西地区</text>
<text x="1138" y="800" class="r">c</text><text x="1180" y="800" class="j" textLength="237">医学図書館サテライト</text>
<text x="1193" y="834" class="s j" textLength="63">端末室</text>
</g>
<g id="lib-kasuga">
<rect class="box" x="1105" y="866" width="319" height="136" rx="13" fill="#fefbd8"/>
<text x="1124" y="902" class="h j" textLength="105">春日地区</text>
<text x="1138" y="940" class="r">d</text><text x="1180" y="940" class="j" textLength="237">図情図書館サテライト</text>
<text x="1182" y="977" class="s j" textLength="213">ラーニング<tspan class="f">・</tspan>コモンズ</text>
</g>
<text x="1097" y="1602" class="j" style="font-size:25px" textLength="325">共通教育システム:東京地区</text>
<text x="1183" y="1629" class="s j" textLength="163">&lt; 地図区域外 &gt;</text>
<g id="tokyo">
<rect class="box" x="1105" y="1643" width="319" height="300" rx="13" fill="#ececec"/>
<circle cx="1133" cy="1673" r="10" fill="#e6007e"/>
<text x="1160" y="1681" class="h j" textLength="187">東京キャンパス</text>
<text x="1218" y="1712" class="h j" textLength="140">（大塚地区）</text>
<text x="1133" y="1765">13</text><text x="1180" y="1765" class="j" textLength="166">東京サテライト</text>
<text x="1199" y="1798" class="s j" textLength="153">文京校舎 4F 454</text>
<text x="1137" y="1856" class="r">e</text><text x="1180" y="1856" class="j" textLength="237">大塚図書館サテライト</text>
<text x="1183" y="1887" class="s j" textLength="225">文京校舎 B1 大塚図書館</text>
</g>
</g>
</svg>
